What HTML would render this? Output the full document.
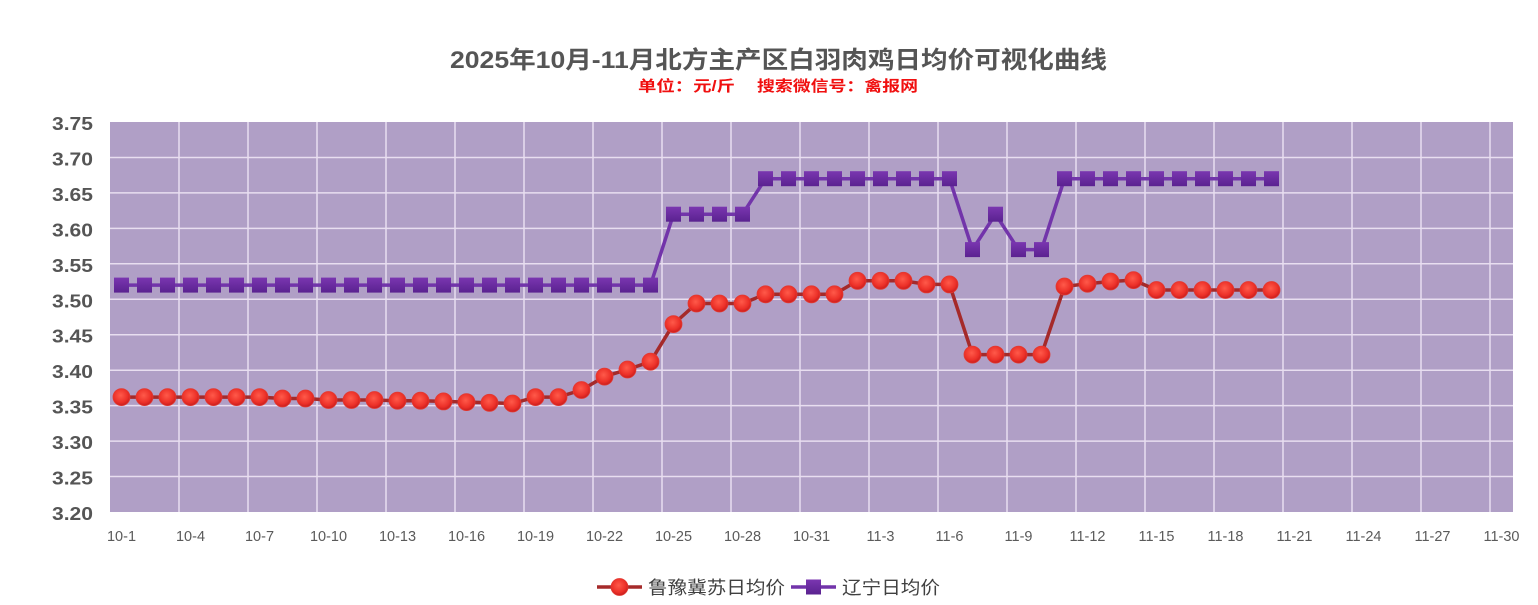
<!DOCTYPE html>
<html><head><meta charset="utf-8"><style>
html,body{margin:0;padding:0;background:#fff;}
svg{display:block;}
</style></head><body>
<svg width="1538" height="605" viewBox="0 0 1538 605" xmlns="http://www.w3.org/2000/svg">
<defs>
<radialGradient id="rg" cx="0.45" cy="0.4" r="0.6">
<stop offset="0" stop-color="#ff5a4a"/><stop offset="0.7" stop-color="#ec3028"/><stop offset="1" stop-color="#c81e1e"/>
</radialGradient>
<linearGradient id="pg" x1="0" y1="0" x2="0" y2="1">
<stop offset="0" stop-color="#7a36b0"/><stop offset="1" stop-color="#5a2290"/>
</linearGradient>
<circle id="m" r="8.5" fill="url(#rg)" stroke="#e23a32" stroke-width="0.8"/>
<rect id="s" x="-7.5" y="-7.5" width="15" height="15" fill="url(#pg)"/>
</defs>
<rect width="1538" height="605" fill="#fff"/>
<text x="450" y="68" font-family="Liberation Sans, Noto Sans CJK SC, sans-serif" font-weight="bold" font-size="24" fill="#555" textLength="657" lengthAdjust="spacingAndGlyphs">2025年10月-11月北方主产区白羽肉鸡日均价可视化曲线</text>
<text x="638" y="91" font-family="Liberation Sans, Noto Sans CJK SC, sans-serif" font-weight="bold" font-size="15" fill="#f01010" textLength="97" lengthAdjust="spacingAndGlyphs">单位：元/斤</text>
<text x="757" y="91" font-family="Liberation Sans, Noto Sans CJK SC, sans-serif" font-weight="bold" font-size="15" fill="#f01010" textLength="161" lengthAdjust="spacingAndGlyphs">搜索微信号：禽报网</text>
<rect x="110" y="122" width="1403" height="390" fill="#b09fc6"/>
<g stroke="#e8def0" stroke-width="1.5">
<line x1="110" y1="476.5" x2="1513" y2="476.5"/><line x1="110" y1="441.1" x2="1513" y2="441.1"/><line x1="110" y1="405.6" x2="1513" y2="405.6"/><line x1="110" y1="370.2" x2="1513" y2="370.2"/><line x1="110" y1="334.7" x2="1513" y2="334.7"/><line x1="110" y1="299.3" x2="1513" y2="299.3"/><line x1="110" y1="263.8" x2="1513" y2="263.8"/><line x1="110" y1="228.4" x2="1513" y2="228.4"/><line x1="110" y1="192.9" x2="1513" y2="192.9"/><line x1="110" y1="157.5" x2="1513" y2="157.5"/>
<line x1="179" y1="122" x2="179" y2="512"/><line x1="248" y1="122" x2="248" y2="512"/><line x1="317" y1="122" x2="317" y2="512"/><line x1="386" y1="122" x2="386" y2="512"/><line x1="455" y1="122" x2="455" y2="512"/><line x1="524" y1="122" x2="524" y2="512"/><line x1="593" y1="122" x2="593" y2="512"/><line x1="662" y1="122" x2="662" y2="512"/><line x1="731" y1="122" x2="731" y2="512"/><line x1="800" y1="122" x2="800" y2="512"/><line x1="869" y1="122" x2="869" y2="512"/><line x1="938" y1="122" x2="938" y2="512"/><line x1="1007" y1="122" x2="1007" y2="512"/><line x1="1076" y1="122" x2="1076" y2="512"/><line x1="1145" y1="122" x2="1145" y2="512"/><line x1="1214" y1="122" x2="1214" y2="512"/><line x1="1283" y1="122" x2="1283" y2="512"/><line x1="1352" y1="122" x2="1352" y2="512"/><line x1="1421" y1="122" x2="1421" y2="512"/><line x1="1490" y1="122" x2="1490" y2="512"/>
</g>
<g font-family="Liberation Sans, sans-serif" font-weight="bold" font-size="18" fill="#555">
<text x="52" y="130" textLength="41" lengthAdjust="spacingAndGlyphs">3.75</text>
<text x="52" y="165.5" textLength="41" lengthAdjust="spacingAndGlyphs">3.70</text>
<text x="52" y="201" textLength="41" lengthAdjust="spacingAndGlyphs">3.65</text>
<text x="52" y="236.4" textLength="41" lengthAdjust="spacingAndGlyphs">3.60</text>
<text x="52" y="271.8" textLength="41" lengthAdjust="spacingAndGlyphs">3.55</text>
<text x="52" y="307.3" textLength="41" lengthAdjust="spacingAndGlyphs">3.50</text>
<text x="52" y="342.7" textLength="41" lengthAdjust="spacingAndGlyphs">3.45</text>
<text x="52" y="378.2" textLength="41" lengthAdjust="spacingAndGlyphs">3.40</text>
<text x="52" y="413.6" textLength="41" lengthAdjust="spacingAndGlyphs">3.35</text>
<text x="52" y="449.1" textLength="41" lengthAdjust="spacingAndGlyphs">3.30</text>
<text x="52" y="484.5" textLength="41" lengthAdjust="spacingAndGlyphs">3.25</text>
<text x="52" y="520" textLength="41" lengthAdjust="spacingAndGlyphs">3.20</text>
</g>
<g font-family="Liberation Sans, sans-serif" font-size="14.5" fill="#5a5a5a" text-anchor="middle">
<text x="121.5" y="541">10-1</text><text x="190.5" y="541">10-4</text><text x="259.5" y="541">10-7</text><text x="328.5" y="541">10-10</text><text x="397.5" y="541">10-13</text><text x="466.5" y="541">10-16</text><text x="535.5" y="541">10-19</text><text x="604.5" y="541">10-22</text><text x="673.5" y="541">10-25</text><text x="742.5" y="541">10-28</text><text x="811.5" y="541">10-31</text><text x="880.5" y="541">11-3</text><text x="949.5" y="541">11-6</text><text x="1018.5" y="541">11-9</text><text x="1087.5" y="541">11-12</text><text x="1156.5" y="541">11-15</text><text x="1225.5" y="541">11-18</text><text x="1294.5" y="541">11-21</text><text x="1363.5" y="541">11-24</text><text x="1432.5" y="541">11-27</text><text x="1501.5" y="541">11-30</text>
</g>
<!-- purple series -->
<polyline fill="none" stroke="#7234aa" stroke-width="3.5" stroke-linejoin="round" points="121.5,285.1 650.5,285.1 673.5,214.2 742.5,214.2 765.5,178.7 949.5,178.7 972.5,249.6 995.5,214.2 1018.5,249.6 1041.5,249.6 1064.5,178.7 1271.5,178.7"/>
<g fill="url(#pg)">
<use href="#s" x="121.5" y="285.1"/><use href="#s" x="144.5" y="285.1"/><use href="#s" x="167.5" y="285.1"/><use href="#s" x="190.5" y="285.1"/><use href="#s" x="213.5" y="285.1"/><use href="#s" x="236.5" y="285.1"/><use href="#s" x="259.5" y="285.1"/><use href="#s" x="282.5" y="285.1"/><use href="#s" x="305.5" y="285.1"/><use href="#s" x="328.5" y="285.1"/><use href="#s" x="351.5" y="285.1"/><use href="#s" x="374.5" y="285.1"/><use href="#s" x="397.5" y="285.1"/><use href="#s" x="420.5" y="285.1"/><use href="#s" x="443.5" y="285.1"/><use href="#s" x="466.5" y="285.1"/><use href="#s" x="489.5" y="285.1"/><use href="#s" x="512.5" y="285.1"/><use href="#s" x="535.5" y="285.1"/><use href="#s" x="558.5" y="285.1"/><use href="#s" x="581.5" y="285.1"/><use href="#s" x="604.5" y="285.1"/><use href="#s" x="627.5" y="285.1"/><use href="#s" x="650.5" y="285.1"/>
<use href="#s" x="673.5" y="214.2"/><use href="#s" x="696.5" y="214.2"/><use href="#s" x="719.5" y="214.2"/><use href="#s" x="742.5" y="214.2"/>
<use href="#s" x="765.5" y="178.7"/><use href="#s" x="788.5" y="178.7"/><use href="#s" x="811.5" y="178.7"/><use href="#s" x="834.5" y="178.7"/><use href="#s" x="857.5" y="178.7"/><use href="#s" x="880.5" y="178.7"/><use href="#s" x="903.5" y="178.7"/><use href="#s" x="926.5" y="178.7"/><use href="#s" x="949.5" y="178.7"/>
<use href="#s" x="972.5" y="249.6"/><use href="#s" x="995.5" y="214.2"/><use href="#s" x="1018.5" y="249.6"/><use href="#s" x="1041.5" y="249.6"/>
<use href="#s" x="1064.5" y="178.7"/><use href="#s" x="1087.5" y="178.7"/><use href="#s" x="1110.5" y="178.7"/><use href="#s" x="1133.5" y="178.7"/><use href="#s" x="1156.5" y="178.7"/><use href="#s" x="1179.5" y="178.7"/><use href="#s" x="1202.5" y="178.7"/><use href="#s" x="1225.5" y="178.7"/><use href="#s" x="1248.5" y="178.7"/><use href="#s" x="1271.5" y="178.7"/>
</g>
<!-- red series -->
<polyline fill="none" stroke="#a52a2a" stroke-width="3.5" stroke-linejoin="round" points="121.5,397.1 144.5,397.1 167.5,397.1 190.5,397.1 213.5,397.1 236.5,397.1 259.5,397.1 282.5,398.5 305.5,398.5 328.5,400 351.5,400 374.5,400 397.5,400.7 420.5,400.7 443.5,401.4 466.5,402.1 489.5,402.8 512.5,403.5 535.5,397.1 558.5,397.1 581.5,390 604.5,376.6 627.5,369.5 650.5,361.7 673.5,324.1 696.5,303.5 719.5,303.5 742.5,303.5 765.5,294.3 788.5,294.3 811.5,294.3 834.5,294.3 857.5,280.8 880.5,280.8 903.5,280.8 926.5,284.4 949.5,284.4 972.5,354.6 995.5,354.6 1018.5,354.6 1041.5,354.6 1064.5,286.5 1087.5,283.7 1110.5,281.5 1133.5,280.1 1156.5,290 1179.5,290 1202.5,290 1225.5,290 1248.5,290 1271.5,290"/>
<g>
<use href="#m" x="121.5" y="397.1"/><use href="#m" x="144.5" y="397.1"/><use href="#m" x="167.5" y="397.1"/><use href="#m" x="190.5" y="397.1"/><use href="#m" x="213.5" y="397.1"/><use href="#m" x="236.5" y="397.1"/><use href="#m" x="259.5" y="397.1"/><use href="#m" x="282.5" y="398.5"/><use href="#m" x="305.5" y="398.5"/><use href="#m" x="328.5" y="400"/><use href="#m" x="351.5" y="400"/><use href="#m" x="374.5" y="400"/><use href="#m" x="397.5" y="400.7"/><use href="#m" x="420.5" y="400.7"/><use href="#m" x="443.5" y="401.4"/><use href="#m" x="466.5" y="402.1"/><use href="#m" x="489.5" y="402.8"/><use href="#m" x="512.5" y="403.5"/><use href="#m" x="535.5" y="397.1"/><use href="#m" x="558.5" y="397.1"/><use href="#m" x="581.5" y="390"/><use href="#m" x="604.5" y="376.6"/><use href="#m" x="627.5" y="369.5"/><use href="#m" x="650.5" y="361.7"/><use href="#m" x="673.5" y="324.1"/><use href="#m" x="696.5" y="303.5"/><use href="#m" x="719.5" y="303.5"/><use href="#m" x="742.5" y="303.5"/><use href="#m" x="765.5" y="294.3"/><use href="#m" x="788.5" y="294.3"/><use href="#m" x="811.5" y="294.3"/><use href="#m" x="834.5" y="294.3"/><use href="#m" x="857.5" y="280.8"/><use href="#m" x="880.5" y="280.8"/><use href="#m" x="903.5" y="280.8"/><use href="#m" x="926.5" y="284.4"/><use href="#m" x="949.5" y="284.4"/><use href="#m" x="972.5" y="354.6"/><use href="#m" x="995.5" y="354.6"/><use href="#m" x="1018.5" y="354.6"/><use href="#m" x="1041.5" y="354.6"/><use href="#m" x="1064.5" y="286.5"/><use href="#m" x="1087.5" y="283.7"/><use href="#m" x="1110.5" y="281.5"/><use href="#m" x="1133.5" y="280.1"/><use href="#m" x="1156.5" y="290"/><use href="#m" x="1179.5" y="290"/><use href="#m" x="1202.5" y="290"/><use href="#m" x="1225.5" y="290"/><use href="#m" x="1248.5" y="290"/><use href="#m" x="1271.5" y="290"/>
</g>
<!-- legend -->
<line x1="597" y1="587" x2="642" y2="587" stroke="#a52a2a" stroke-width="3.5"/>
<use href="#m" x="619.5" y="587"/>
<text x="648" y="594" font-family="Liberation Sans, Noto Sans CJK SC, sans-serif" font-size="18" fill="#404040" textLength="137" lengthAdjust="spacingAndGlyphs">鲁豫冀苏日均价</text>
<line x1="791" y1="587" x2="836" y2="587" stroke="#7234aa" stroke-width="3.5"/>
<use href="#s" x="813.5" y="587"/>
<text x="842" y="594" font-family="Liberation Sans, Noto Sans CJK SC, sans-serif" font-size="18" fill="#404040" textLength="98" lengthAdjust="spacingAndGlyphs">辽宁日均价</text>
</svg>
</body></html>
